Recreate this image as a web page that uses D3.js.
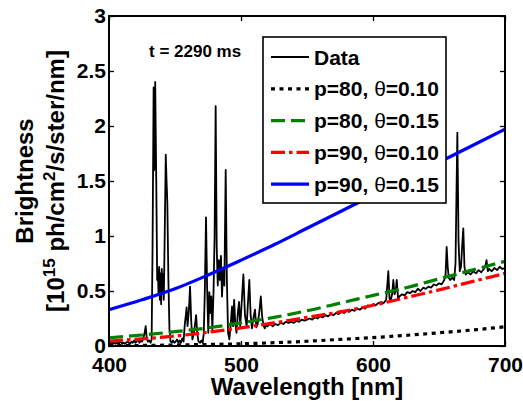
<!DOCTYPE html>
<html><head><meta charset="utf-8">
<script src="https://cdn.jsdelivr.net/npm/d3@7"></script>
<style>
body{margin:0;background:#fff;}
svg{display:block;font-family:"Liberation Sans",Arial,Helvetica,sans-serif;font-weight:bold;}
</style></head>
<body><svg id="c" width="523" height="401"></svg>
<script>
// ---- Data ----
const dataWl = [400,401,402,403,404,405,406,407,408,409,410,411,412,413,414,415,416,417,418,419,420,421,422,423,424,425,426,427,427.8,428.6,429.5,430.5,431.5,432.3,433,433.8,434.3,435,435.8,436.5,437,437.5,438,438.5,439,439.5,440,440.5,441,441.5,442.2,443,443.6,444.2,445,445.8,446.6,447.5,448.5,449.5,450.5,451.5,452.5,453.5,454.5,455.5,456.5,457.3,458.2,458.8,459.5,460.5,461.4,462.3,463.2,464.3,465.2,466,466.8,467.8,469,470,471,471.8,472.6,473.5,474.3,475.2,476,476.8,477.5,478.3,479.2,480,480.8,481.6,482.4,483.2,484,484.8,485.6,486.5,487.4,488.4,489.3,490.2,491.2,492.2,493.2,494,494.8,495.6,496.6,497.6,498.5,499.4,500.3,501.8,503,504.3,505.2,506.3,507.3,508.3,509.5,510.6,511.6,512.6,513.8,515,516,517,518,519,520,522,524,526,528,530,532,534,536,538,540,542,544,546,548,550,552,554,556,558,560,562,564,566,568,570,572,574,576,578,580,582,584,586,588,590,592,594,596,598,600,602,604,606,608,610,611.6,612.5,613.5,614.5,615.4,616.3,617.2,618,619,620,622,624,626,628,630,632,634,636,638,640,642,644,646,648,650,652,654,655,655.8,656.6,657.4,658.5,660,661.5,662.5,663.9,664.8,665.7,666.7,667.5,668.4,669.3,670.2,672,674,676,678,680,682,684,685,686,687,688,690,692,694,696,698,700];
const dataVal = [0.03,0.02,0.03,0.02,0.03,0.02,0.03,0.02,0.03,0.04,0.02,0.03,0.02,0.03,0.04,0.03,0.02,0.04,0.03,0.05,0.03,0.04,0.06,0.03,0.05,0.04,0.07,0.12,0.18,0.07,0.04,0.05,0.03,0.06,0.9,2.35,1.6,2.40,1.5,0.6,0.7,0.48,0.72,0.42,0.66,0.38,0.70,0.5,0.65,0.42,1.0,1.74,1.5,1.3,0.6,0.15,0.04,0.03,0.05,0.03,0.04,0.06,0.03,0.05,0.03,0.07,0.04,0.18,0.28,0.35,0.18,0.32,0.54,0.22,0.06,0.12,0.2,0.28,0.12,0.04,0.03,0.05,0.03,0.12,0.5,1.17,0.55,0.12,0.49,0.3,0.45,0.15,0.5,1.0,2.18,0.9,0.55,0.78,0.6,0.82,0.45,0.7,0.55,1.60,0.6,0.12,0.06,0.2,0.36,0.18,0.42,0.22,0.12,0.3,0.4,0.18,0.35,0.65,0.28,0.18,0.38,0.6,0.28,0.16,0.26,0.33,0.17,0.2,0.3,0.45,0.27,0.19,0.16,0.19,0.18,0.2,0.18,0.2,0.19,0.21,0.2,0.22,0.21,0.22,0.21,0.23,0.22,0.24,0.23,0.24,0.25,0.24,0.26,0.25,0.27,0.26,0.28,0.27,0.29,0.28,0.3,0.29,0.31,0.3,0.32,0.31,0.33,0.32,0.34,0.33,0.35,0.34,0.37,0.36,0.38,0.37,0.39,0.4,0.39,0.42,0.68,0.43,0.42,0.47,0.6,0.47,0.5,0.6,0.43,0.45,0.47,0.46,0.49,0.48,0.5,0.49,0.52,0.5,0.53,0.52,0.54,0.53,0.56,0.55,0.57,0.56,0.6,0.65,0.90,0.72,0.62,0.6,0.62,0.6,0.75,1.94,0.95,0.68,0.72,0.9,1.07,0.72,0.65,0.67,0.65,0.68,0.66,0.69,0.67,0.7,0.72,0.78,0.68,0.7,0.68,0.71,0.69,0.72,0.7,0.71];

const modelWl   = [400,425,450,475,500,525,550,575,600,625,650,675,700];
const p80t010   = [0.003,0.005,0.009,0.014,0.02,0.03,0.043,0.06,0.077,0.097,0.12,0.145,0.175];
const p80t015   = [0.075,0.10,0.13,0.165,0.21,0.26,0.32,0.39,0.46,0.53,0.61,0.69,0.77];
const p90t010   = [0.045,0.065,0.09,0.125,0.165,0.21,0.26,0.31,0.37,0.44,0.51,0.585,0.66];
const p90t015   = [0.33,0.42,0.52,0.645,0.78,0.92,1.07,1.22,1.37,1.52,1.67,1.82,1.97];

const xTicks = [400,500,600,700];
const yTicks = [0,0.5,1,1.5,2,2.5,3];
const legendLabels = ["Data","p=80, θ=0.10","p=80, θ=0.15","p=90, θ=0.10","p=90, θ=0.15"];
const annotation = "t = 2290 ms";

// ---- Chart ----
const svg = d3.select("#c");
const L=109, R=505, T=16, B=346;
const x = d3.scaleLinear().domain([400,700]).range([L,R]);
const y = d3.scaleLinear().domain([0,3]).range([B,T]);

svg.append("clipPath").attr("id","clp").append("rect").attr("x",L).attr("y",T).attr("width",R-L).attr("height",B-T);
const pg = svg.append("g").attr("clip-path","url(#clp)");

const dataPts = dataWl.map((w,i)=>[w,dataVal[i]]);
const lineLin = d3.line().x(d=>x(d[0])).y(d=>y(d[1]));
const lineSm = d3.line().x(d=>x(d[0])).y(d=>y(d[1])).curve(d3.curveMonotoneX);

pg.append("path").attr("d",lineLin(dataPts)).attr("fill","none").attr("stroke","#000").attr("stroke-width",1.8).attr("stroke-linejoin","round");

const series = [
  {v:p80t010, color:"#000", dash:"4,4.5", w:3.2},
  {v:p80t015, color:"#008000", dash:"14,6", w:3.2},
  {v:p90t010, color:"#ff0000", dash:"14,4,3.5,4", w:3.2},
  {v:p90t015, color:"#0000ff", dash:null, w:3.2}
];
series.forEach(s=>{
  const p = pg.append("path").attr("d",lineSm(modelWl.map((w,i)=>[w,s.v[i]])))
    .attr("fill","none").attr("stroke",s.color).attr("stroke-width",s.w);
  if(s.dash) p.attr("stroke-dasharray",s.dash);
});

// axes
const fs = "21px";
const ax = svg.append("g").attr("transform",`translate(0,${B})`)
  .call(d3.axisBottom(x).tickValues(xTicks).tickSizeInner(-5).tickSizeOuter(0).tickPadding(11).tickFormat(d3.format("d")));
const ay = svg.append("g").attr("transform",`translate(${L},0)`)
  .call(d3.axisLeft(y).tickValues(yTicks).tickSizeInner(-5).tickSizeOuter(0).tickPadding(3).tickFormat(d=>d3.format("")(d)));
const axT = svg.append("g").attr("transform",`translate(0,${T})`)
  .call(d3.axisTop(x).tickValues(xTicks).tickSizeInner(-5).tickSizeOuter(0).tickFormat(""));
const ayR = svg.append("g").attr("transform",`translate(${R},0)`)
  .call(d3.axisRight(y).tickValues(yTicks).tickSizeInner(-5).tickSizeOuter(0).tickFormat(""));
[ax,ay,axT,ayR].forEach(g=>{
  g.select(".domain").remove();
  g.selectAll(".tick line").attr("stroke","#000").attr("stroke-width",1.3);
  g.selectAll("text").attr("font-size",fs).attr("font-weight","bold").attr("font-family","Liberation Sans, Arial, sans-serif").attr("fill","#000");
});
svg.append("rect").attr("x",L).attr("y",T).attr("width",R-L).attr("height",B-T)
  .attr("fill","none").attr("stroke","#000").attr("stroke-width",2);

// annotation
svg.append("text").attr("x",149).attr("y",57).attr("font-size","17px").text(annotation);

// legend
const lg = svg.append("g");
lg.append("rect").attr("x",263).attr("y",37).attr("width",183).attr("height",166)
  .attr("fill","#fff").attr("stroke","#000").attr("stroke-width",1.6);
const legStyles = [{color:"#000",dash:null,w:1.8}].concat(series);
legendLabels.forEach((lab,i)=>{
  const cy = 57 + i*31.8;
  const s = legStyles[i];
  const ln = lg.append("line").attr("x1",271).attr("x2",309).attr("y1",cy).attr("y2",cy)
    .attr("stroke",s.color).attr("stroke-width",s.w);
  if(s.dash) ln.attr("stroke-dasharray",s.dash);
  const t = lg.append("text").attr("x",314).attr("y",cy).attr("dy","0.36em").attr("font-size","21px");
  const parts = lab.split("θ");
  t.append("tspan").text(parts[0]);
  if(parts.length>1){
    t.append("tspan").attr("font-weight","normal").text("θ");
    t.append("tspan").text(parts[1]);
  }
});

// axis labels
svg.append("text").attr("x",(L+R)/2).attr("y",395).attr("text-anchor","middle").attr("font-size","24px").text("Wavelength [nm]");
svg.append("text").attr("transform",`translate(33,${(T+B)/2}) rotate(-90)`).attr("text-anchor","middle").attr("font-size","24px").text("Brightness");
const yl2 = svg.append("text").attr("transform",`translate(64,${(T+B)/2}) rotate(-90)`).attr("text-anchor","middle").attr("font-size","24px");
yl2.append("tspan").text("[10");
yl2.append("tspan").attr("dy",-9).attr("font-size","17px").text("15");
yl2.append("tspan").attr("dy",9).text(" ph/cm");
yl2.append("tspan").attr("dy",-9).attr("font-size","17px").text("2");
yl2.append("tspan").attr("dy",9).text("/s/ster/nm]");
</script></body></html>
